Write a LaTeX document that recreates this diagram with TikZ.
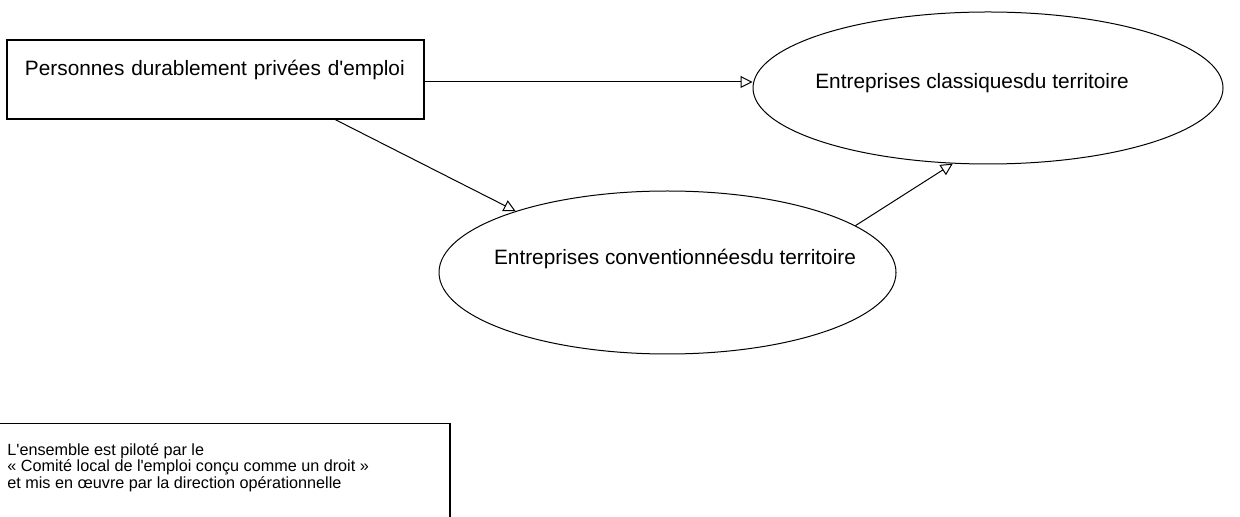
\documentclass[tikz,border=0pt]{standalone}
\usepackage{fontspec}
\setmainfont{Liberation Sans}
\usetikzlibrary{arrows.meta,shapes.geometric,calc}
\begin{document}
\begin{tikzpicture}[x=0.5pt,y=-0.5pt,
  every node/.style={font=\fontsize{10.4}{12.5}\selectfont},
  rectbox/.style={draw, line width=0.75pt, rectangle},
  oval/.style={draw, line width=0.5pt, ellipse, inner xsep=-20pt, inner ysep=0pt},
  arr/.style={line width=0.5pt, -{Triangle[open,length=6pt,width=6pt]}},
  ]
\clip (0,0) rectangle (1240,517);
\useasboundingbox (0,0) rectangle (1240,517);

\node[rectbox, text width=190.5pt, align=left, inner xsep=9pt, inner ysep=0pt,
      text height=18pt, text depth=21.5pt] (p) at (215.5,79.5)
  {Personnes durablement privées d\textquotesingle emploi};

\node[oval, minimum width=235pt, minimum height=76pt, text height=8pt, text depth=7pt]
  (c1) at (988,88) {\hspace*{-16pt}Entreprises classiquesdu territoire};

\node[oval, minimum width=228.5pt, minimum height=81.5pt, text height=8pt, text depth=15.5pt]
  (c2) at (667.5,272.5) {Entreprises conventionnéesdu territoire\hspace*{-7.5pt}};

\draw[arr] ([yshift=-1.25pt]p.east) -- ([yshift=-1.25pt]p.east -| c1.west);
\draw[arr] ([xshift=60pt]p.south) -- (c2.158.9);
\draw[arr] (c2.14.8) -- (c1.245);

\node[rectbox, anchor=north west, minimum width=229.5pt, minimum height=60pt] (n) at (-10,423) {};
\node[anchor=base west, align=left, inner sep=0pt, font=\fontsize{8.1}{8.25}\selectfont] (t) at (7,488)
  {L\textquotesingle ensemble est piloté par le\\« Comité local de l\textquotesingle emploi conçu comme un droit »\\et mis en œuvre par la direction opérationnelle};
\end{tikzpicture}
\end{document}
